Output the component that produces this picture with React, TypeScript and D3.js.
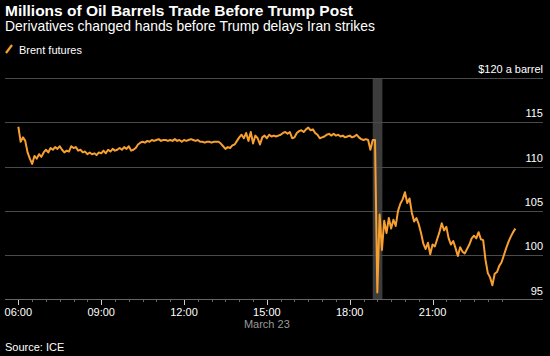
import React from "react";
import * as d3 from "d3";

const title = "Millions of Oil Barrels Trade Before Trump Post";
const subtitle = "Derivatives changed hands before Trump delays Iran strikes";
const seriesName = "Brent futures";
const unitLabel = "$120 a barrel";
const dateLabel = "March 23";
const sourceLabel = "Source: ICE";

const startTime = "06:00";
const stepMinutes = 5;
// Brent futures, one value every 5 minutes from 06:00 to 24:00
const prices = [
  114.5, 112.8, 113.3, 112.9, 111.6, 110.9, 110.3, 111.2, 110.9, 111.4, 111.1, 111.6, // 06
  111.9, 111.6, 112.1, 111.9, 112.2, 112.0, 112.3, 111.9, 111.6, 111.8, 111.7, 112.3, // 07
  112.1, 112.2, 111.8, 111.9, 111.6, 111.7, 111.4, 111.6, 111.4, 111.5, 111.3, 111.6, // 08
  111.5, 111.8, 111.5, 111.9, 111.7, 112.0, 111.8, 111.9, 112.1, 111.9, 112.2, 112.0, // 09
  112.3, 111.8, 111.9, 112.1, 112.5, 112.7, 112.8, 112.7, 112.9, 112.8, 113.0, 112.9, // 10
  113.0, 113.1, 112.9, 113.0, 113.0, 112.9, 113.0, 112.9, 113.1, 112.9, 113.0, 112.8, // 11
  113.0, 112.9, 113.0, 113.1, 113.0, 112.9, 113.0, 112.8, 112.8, 112.7, 112.8, 112.8, // 12
  112.7, 112.8, 112.8, 112.8, 112.6, 112.3, 112.0, 112.2, 112.1, 112.4, 112.5, 112.9, // 13
  113.3, 113.6, 113.2, 113.8, 112.9, 113.9, 112.6, 113.5, 113.2, 112.5, 113.3, 113.5, // 14
  113.2, 113.6, 113.4, 113.5, 113.4, 113.5, 113.6, 113.8, 113.9, 113.7, 113.9, 113.2, // 15
  113.3, 113.8, 114.0, 114.1, 113.9, 114.2, 114.4, 114.1, 114.2, 113.8, 113.6, 113.2, // 16
  113.3, 113.4, 113.6, 113.7, 113.5, 113.7, 113.5, 113.6, 113.4, 113.5, 113.3, 113.4, // 17
  113.5, 113.3, 113.4, 113.6, 113.3, 113.1, 113.0, 113.1, 113.0, 111.9, 113.0, 113.0, // 18
  95.8, 104.6, 100.6, 103.9, 102.5, 104.2, 103.0, 104.0, 103.3, 105.0, 105.8, 106.3, // 19
  107.1, 105.9, 106.4, 104.8, 103.8, 104.2, 103.5, 102.5, 101.3, 100.7, 101.4, 100.1, // 20
  101.2, 101.0, 101.8, 102.6, 103.6, 102.8, 103.2, 101.9, 101.2, 101.6, 100.8, 99.9, // 21
  100.9, 100.4, 100.2, 100.7, 101.2, 101.9, 102.2, 101.9, 102.6, 101.8, 101.7, 99.5, // 22
  98.0, 97.5, 96.6, 97.9, 98.1, 98.8, 99.2, 100.0, 100.8, 101.5, 102.1, 102.6, // 23
  103.0,
];

const yTicks = [95, 100, 105, 110, 115, 120];
const xTickLabels = ["06:00", "09:00", "12:00", "15:00", "18:00", "21:00"];
const domainStart = "05:31";
const domainEnd = "25:00";
const bandStart = "18:50";
const bandEnd = "19:11";

const toMin = (s: string) => {
  const [h, m] = s.split(":").map(Number);
  return h * 60 + m;
};

const W = 550;
const H = 356;
const FONT = "'Liberation Sans Narrow', 'Liberation Sans', Arial, sans-serif";
const ORANGE = "#f7a030";

export default function App() {
  const x = d3.scaleLinear().domain([toMin(domainStart), toMin(domainEnd)]).range([5, 543]);
  const y = d3.scaleLinear().domain([95, 120]).range([299.5, 78]);
  const t0 = toMin(startTime);
  const pts = prices.map((v, i) => [t0 + i * stepMinutes, v] as [number, number]);
  const line = d3
    .line<[number, number]>()
    .x((d) => x(d[0]))
    .y((d) => y(d[1]));

  const minorTicks = d3.range(toMin("06:00"), toMin("23:31"), 30);

  return (
    <div style={{ position: "fixed", left: 0, top: 0, width: W, height: H, background: "#000" }}>
      <svg width={W} height={H} style={{ display: "block", background: "#000" }} fontFamily={FONT}>
        <text x={5} y={16} fill="#fff" fontSize={15.5} fontWeight="bold">
          {title}
        </text>
        <text x={5} y={31} fill="#fff" fontSize={13.9}>
          {subtitle}
        </text>
        <line x1={6} y1={53} x2={12} y2={45} stroke={ORANGE} strokeWidth={2.2} />
        <text x={19} y={54} fill="#fff" fontSize={11}>
          {seriesName}
        </text>

        <rect
          x={x(toMin(bandStart))}
          y={y(120)}
          width={x(toMin(bandEnd)) - x(toMin(bandStart))}
          height={y(95) - y(120)}
          fill="#3c3c3c"
        />

        {yTicks.map((t) => (
          <g key={t}>
            {t !== 95 && (
              <line x1={5} x2={543} y1={Math.round(y(t)) + 0.5} y2={Math.round(y(t)) + 0.5} stroke="#4a4a4a" strokeWidth={1} />
            )}
            <text x={543} y={y(t) - 5} fill="#fff" fontSize={11} textAnchor="end">
              {t === 120 ? unitLabel : String(t)}
            </text>
          </g>
        ))}

        <line x1={5} x2={543} y1={299.5} y2={299.5} stroke="#666" strokeWidth={1} />
        {minorTicks.map((m) => (
          <line key={m} x1={Math.round(x(m)) + 0.5} x2={Math.round(x(m)) + 0.5} y1={300} y2={m % 180 === 0 ? 305 : 302} stroke={m % 180 === 0 ? "#ccc" : "#666"} strokeWidth={1} />
        ))}
        {xTickLabels.map((l) => (
          <text key={l} x={x(toMin(l))} y={316} fill="#fff" fontSize={11} textAnchor="middle">
            {l}
          </text>
        ))}
        <text x={x(toMin("15:00"))} y={328} fill="#999" fontSize={11} textAnchor="middle">
          {dateLabel}
        </text>
        <text x={5} y={351} fill="#fff" fontSize={11}>
          {sourceLabel}
        </text>

        <path d={line(pts) || ""} fill="none" stroke={ORANGE} strokeWidth={2} strokeLinejoin="round" />
      </svg>
    </div>
  );
}
